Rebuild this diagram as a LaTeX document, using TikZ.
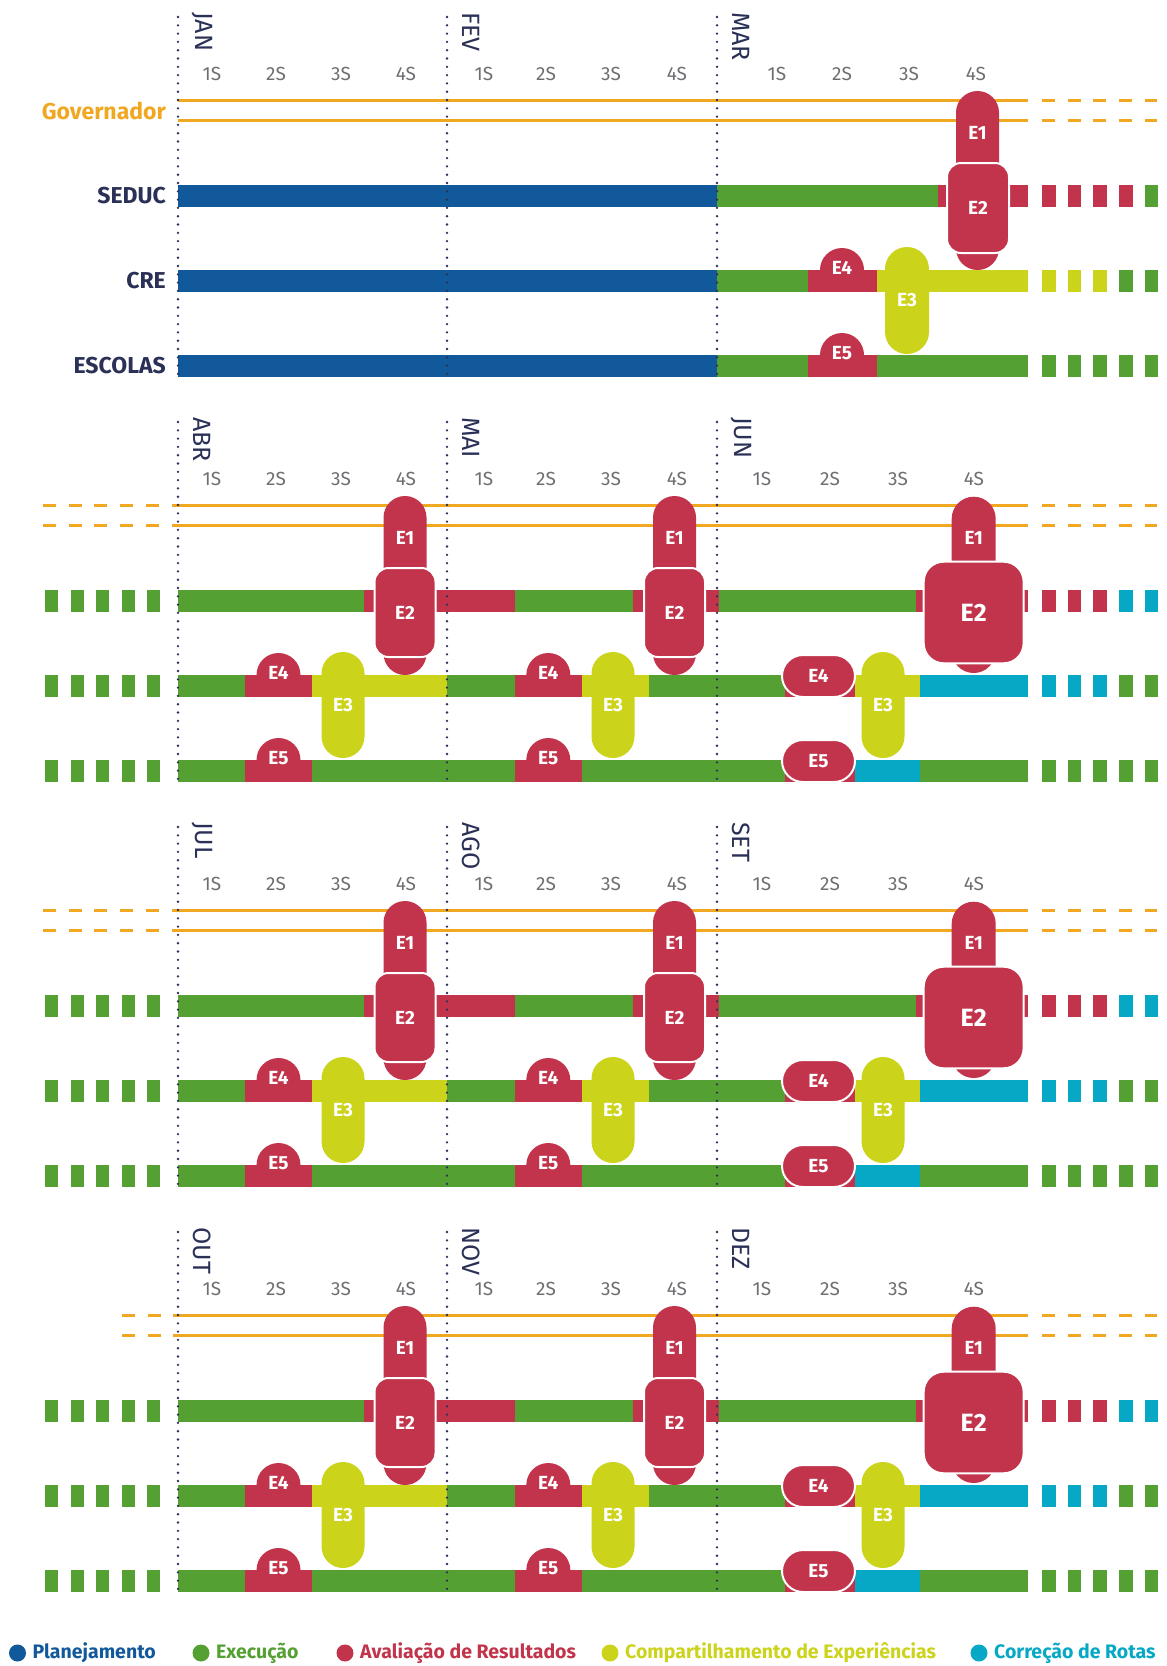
\documentclass[tikz,border=0pt]{standalone}
\usepackage{fontspec}
\setmainfont{Fira Sans}
\usepackage{xcolor}
\usetikzlibrary{positioning}
\definecolor{planBlue}{HTML}{12599B}
\definecolor{execGreen}{HTML}{55A033}
\definecolor{avalRed}{HTML}{C1344B}
\definecolor{compYellow}{HTML}{CCD31B}
\definecolor{rotaCyan}{HTML}{06A8C6}
\definecolor{govOrange}{HTML}{F0A822}
\definecolor{inkNavy}{HTML}{2A3056}
\definecolor{weekGrey}{HTML}{6E6F72}

% bar piece: {x1}{x2}{row y}{colour}
\newcommand\seg[4]{\fill[#4] (#1,#3-11) rectangle (#2,#3+11);}
% dashes after the bars: {row y}{colours}
\newcommand\rticks[2]{\foreach \c [count=\i from 0] in {#2}
  \fill[\c] ({1042+25.7*\i},#1-11) rectangle ({1055.5+25.7*\i},#1+11);}
% dashes before the bars: {row y}
\newcommand\lticks[1]{\foreach \i in {0,...,4}
  \fill[execGreen] ({45+25.5*\i},#1-11) rectangle ({58+25.5*\i},#1+11);}
% round top of E4 / E5: {centre x}{bar top}
\newcommand\bump[2]{\fill[avalRed] (#1-22,#2+1) -- (#1-22,#2)
  arc[start angle=180,end angle=0,radius=22pt] -- (#1+22,#2+1) -- cycle;}

\begin{document}
\begin{tikzpicture}[x=1pt,y=-1pt,
    rowlabel/.style={font=\bfseries\fontsize{23}{23}\selectfont,text=inkNavy,anchor=east,inner sep=0pt},
    govlabel/.style={rowlabel,text=govOrange},
    month/.style={font=\fontsize{25}{25}\selectfont,text=inkNavy,rotate=-90,anchor=west,inner sep=0pt},
    week/.style={font=\fontsize{19}{19}\selectfont,text=weekGrey,inner sep=0pt},
    elabel/.style={font=\bfseries\fontsize{19}{19}\selectfont,text=white,inner sep=0pt},
    bigelabel/.style={elabel,font=\bfseries\fontsize{25}{25}\selectfont},
    govline/.style={govOrange,line width=2.4pt},
    govdash/.style={govline,dash pattern=on 13pt off 12.7pt},
    monthline/.style={inkNavy,line width=2.6pt,line cap=round,dash pattern=on 0pt off 8.3pt},
    ebox/.style={fill=avalRed,draw=white,line width=2pt},
    legendtext/.style={font=\bfseries\fontsize{19.5}{19.5}\selectfont,anchor=west,inner sep=0pt}]
  \fill[white] (0,0) rectangle (1167,1666);
  \useasboundingbox (0,0) rectangle (1167,1666);

  % ---------- JAN / FEV / MAR
  \foreach \x/\m in {202/JAN,471/FEV,741/MAR}
    \node[month] (m-\m) at (\x,12) {\m};
  \foreach \x/\w in {212/1S,276/2S,341/3S,406/4S,484/1S,546/2S,611/3S,677/4S,777/1S,842/2S,909/3S,976/4S}
    \node[week] (w-0-\x) at (\x,74) {\w};
  \node[govlabel] (gov) at (166,110.5) {Governador};
  \node[rowlabel] (seduc) at (166,196) {SEDUC};
  \node[rowlabel] (cre) at (166,281) {CRE};
  \node[rowlabel] (escolas) at (166,366) {ESCOLAS};
  \draw[govline] (178,100.5) -- (1028,100.5);
  \draw[govline] (178,120.5) -- (1028,120.5);
  \draw[govdash] (1042,100.5) -- (1157,100.5);
  \draw[govdash] (1042,120.5) -- (1157,120.5);
  \seg{178}{717}{196}{planBlue}\seg{717}{937.5}{196}{execGreen}\seg{937.5}{1028}{196}{avalRed}
  \seg{178}{717}{281}{planBlue}\seg{717}{808}{281}{execGreen}\seg{808}{877}{281}{avalRed}\seg{877}{1028}{281}{compYellow}
  \seg{178}{717}{366}{planBlue}\seg{717}{808}{366}{execGreen}\seg{808}{877}{366}{avalRed}\seg{877}{1028}{366}{execGreen}
  \rticks{196}{avalRed,avalRed,avalRed,avalRed,execGreen}
  \rticks{281}{compYellow,compYellow,compYellow,execGreen,execGreen}
  \rticks{366}{execGreen,execGreen,execGreen,execGreen,execGreen}
  \bump{842}{270}\bump{842}{355}
  \fill[compYellow,rounded corners=22pt] (885,247) rectangle (929,354);
  \fill[avalRed,rounded corners=21.5pt] (956,91) rectangle (999,270);
  \filldraw[ebox,rounded corners=14pt] (947,163) rectangle (1009,253);
  \node[elabel] (e1-0) at (977.5,133) {E1};
  \node[elabel] (e2-0) at (978,208) {E2};
  \node[elabel] (e3-0) at (907,300) {E3};
  \node[elabel] (e4-0) at (842,268) {E4};
  \node[elabel] (e5-0) at (842,353) {E5};
  \foreach \x in {178,447,717}
    \draw[monthline] (\x,17) -- (\x,378);

  % ---------- the three blocks that repeat
  \foreach \s/\ma/\mb/\mc/\gx in {1/ABR/MAI/JUN/43,2/JUL/AGO/SET/43,3/OUT/NOV/DEZ/122}{
  \begin{scope}[yshift={-405pt*\s}]
    \node[month] (m-\ma) at (202,12) {\ma};
    \node[month] (m-\mb) at (471,12) {\mb};
    \node[month] (m-\mc) at (741,12) {\mc};
    \foreach \x/\w in {212/1S,276/2S,341/3S,406/4S,484/1S,546/2S,611/3S,677/4S,762/1S,830/2S,898/3S,974/4S}
      \node[week] (w-\s-\x) at (\x,74) {\w};
    \draw[govdash] (\gx,100.5) -- (178,100.5);
    \draw[govdash] (\gx,120.5) -- (178,120.5);
    \draw[govline] (178,100.5) -- (1028,100.5);
    \draw[govline] (178,120.5) -- (1028,120.5);
    \draw[govdash] (1042,100.5) -- (1157,100.5);
    \draw[govdash] (1042,120.5) -- (1157,120.5);
    \lticks{196}\lticks{281}\lticks{366}
    % SEDUC
    \seg{178}{363.6}{196}{execGreen}\seg{363.6}{514.7}{196}{avalRed}\seg{514.7}{633}{196}{execGreen}
    \seg{633}{718.5}{196}{avalRed}\seg{718.5}{915.8}{196}{execGreen}\seg{915.8}{1028}{196}{avalRed}
    \rticks{196}{avalRed,avalRed,avalRed,rotaCyan,rotaCyan}
    % CRE
    \seg{178}{245}{281}{execGreen}\seg{245}{312}{281}{avalRed}\seg{312}{447}{281}{compYellow}
    \seg{447}{514.7}{281}{execGreen}\seg{514.7}{582}{281}{avalRed}\seg{582}{649}{281}{compYellow}
    \seg{649}{785}{281}{execGreen}\seg{785}{855}{281}{avalRed}\seg{855}{920}{281}{compYellow}
    \seg{920}{1028}{281}{rotaCyan}
    \rticks{281}{rotaCyan,rotaCyan,rotaCyan,execGreen,execGreen}
    % ESCOLAS
    \seg{178}{245}{366}{execGreen}\seg{245}{312}{366}{avalRed}\seg{312}{514.7}{366}{execGreen}
    \seg{514.7}{582}{366}{avalRed}\seg{582}{785}{366}{execGreen}\seg{785}{855}{366}{avalRed}
    \seg{855}{920}{366}{rotaCyan}\seg{920}{1028}{366}{execGreen}
    \rticks{366}{execGreen,execGreen,execGreen,execGreen,execGreen}
    % E4 / E5 in the first two months
    \bump{278.5}{270}\bump{278.5}{355}
    \bump{548.3}{270}\bump{548.3}{355}
    % E3
    \foreach \x in {343,613,883}
      \fill[compYellow,rounded corners=21.5pt] (\x-21.5,247) rectangle (\x+21.5,353);
    % E1 and E2
    \foreach \x in {405,674.5}{
      \fill[avalRed,rounded corners=21.5pt] (\x-21.5,91) rectangle (\x+21.5,270);
      \filldraw[ebox,rounded corners=14pt] (\x-30.5,163) rectangle (\x+30.5,252);
    }
    \fill[avalRed,rounded corners=22pt] (951.7,91.7) rectangle (995.7,268);
    \filldraw[ebox,rounded corners=20pt] (923.7,156.7) rectangle (1023.6,258.3);
    % E4 / E5 in the third month
    \filldraw[ebox,rounded corners=21pt] (782,250) rectangle (855,292);
    \filldraw[ebox,rounded corners=21pt] (782,335) rectangle (855,377);
    % labels of the steps
    \foreach \x [count=\k] in {278.5,548.3}{
      \node[elabel] (e4-\s-\k) at (\x,268) {E4};
      \node[elabel] (e5-\s-\k) at (\x,353) {E5};
    }
    \foreach \x [count=\k] in {405,674.5}{
      \node[elabel] (e1-\s-\k) at (\x,133) {E1};
      \node[elabel] (e2-\s-\k) at (\x,208) {E2};
    }
    \foreach \x [count=\k] in {343,613,883}
      \node[elabel] (e3-\s-\k) at (\x,300) {E3};
    \node[elabel] (e1-\s-3) at (973.7,133) {E1};
    \node[bigelabel] (e2-\s-3) at (973.7,207.5) {E2};
    \node[elabel] (e4-\s-3) at (818.5,271) {E4};
    \node[elabel] (e5-\s-3) at (818.5,356) {E5};
    \foreach \x in {178,447,717}
      \draw[monthline] (\x,17) -- (\x,378);
  \end{scope}
  }

  % ---------- legend
  \foreach \x/\c/\t in {17.5/planBlue/Planejamento,201/execGreen/Execução,345/avalRed/Avaliação de Resultados,610/compYellow/Compartilhamento de Experiências,979/rotaCyan/Correção de Rotas}{
    \fill[\c] (\x,1653) circle[radius=8.5pt];
    \node[legendtext,text=\c] (leg-\c) at (\x+15,1653) {\t};
  }
\end{tikzpicture}
\end{document}
